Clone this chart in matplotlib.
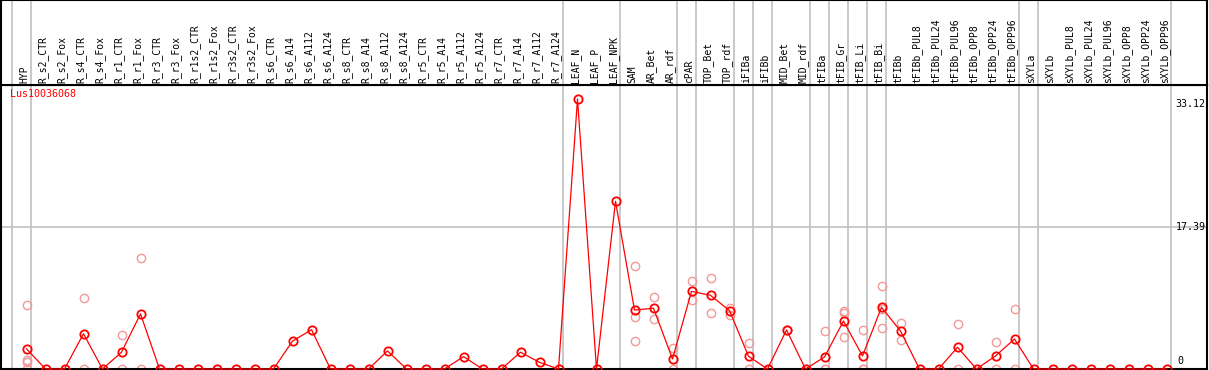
import numpy as np
import matplotlib
matplotlib.use('Agg')
import matplotlib.pyplot as plt

# %% data
samples = [
    'HYP',
    'R_s2_CTR', 'R_s2_Fox', 'R_s4_CTR', 'R_s4_Fox', 'R_r1_CTR', 'R_r1_Fox',
    'R_r3_CTR', 'R_r3_Fox', 'R_r1s2_CTR', 'R_r1s2_Fox', 'R_r3s2_CTR', 'R_r3s2_Fox',
    'R_s6_CTR', 'R_s6_A14', 'R_s6_A112', 'R_s6_A124',
    'R_s8_CTR', 'R_s8_A14', 'R_s8_A112', 'R_s8_A124',
    'R_r5_CTR', 'R_r5_A14', 'R_r5_A112', 'R_r5_A124',
    'R_r7_CTR', 'R_r7_A14', 'R_r7_A112', 'R_r7_A124',
    'LEAF_N', 'LEAF_P', 'LEAF_NPK',
    'SAM', 'AR_Bet', 'AR_rdf', 'cPAR', 'TOP_Bet', 'TOP_rdf', 'iFIBa', 'iFIBb',
    'MID_Bet', 'MID_rdf', 'tFIBa', 'tFIB_Gr', 'tFIB_Li', 'tFIB_Bi', 'tFIBb',
    'tFIBb_PUL8', 'tFIBb_PUL24', 'tFIBb_PUL96', 'tFIBb_OPP8', 'tFIBb_OPP24', 'tFIBb_OPP96',
    'sXYLa', 'sXYLb',
    'sXYLb_PUL8', 'sXYLb_PUL24', 'sXYLb_PUL96', 'sXYLb_OPP8', 'sXYLb_OPP24', 'sXYLb_OPP96',
]

mean_expr = [
    2.47,
    0, 0, 4.33, 0, 2.06, 6.76,
    0, 0, 0, 0, 0, 0,
    0, 3.42, 4.82, 0,
    0, 0, 2.22, 0,
    0, 0, 1.52, 0,
    0, 2.06, 0.82, 0,
    33.12, 0, 20.58,
    7.24, 7.45, 1.23, 9.53, 9.04, 7.16, 1.56, 0,
    4.79, 0, 1.47, 5.89, 1.60, 7.57, 4.66,
    0, 0, 2.66, 0, 1.60, 3.68,
    0, 0,
    0, 0, 0, 0, 0, 0,
]

# replicate values (light circles)
replicates = {
    'HYP': [7.8, 1.1, 0.8, 0],
    'R_s4_CTR': [8.67, 0],
    'R_r1_CTR': [4.13, 0],
    'R_r1_Fox': [13.58, 0],
    'SAM': [12.64, 6.38, 3.4],
    'AR_Bet': [8.8, 6.1],
    'AR_rdf': [2.6, 0],
    'cPAR': [10.76, 8.43],
    'TOP_Bet': [11.13, 6.83],
    'TOP_rdf': [7.52, 6.59],
    'iFIBa': [3.15, 0],
    'MID_Bet': [4.79, 4.79],
    'tFIBa': [4.66, 0, 0],
    'tFIB_Gr': [7.12, 6.83, 3.89],
    'tFIB_Li': [4.79, 0, 0],
    'tFIB_Bi': [10.18, 7.33, 5.0],
    'tFIBb': [5.6, 3.56],
    'tFIBb_PUL96': [5.48, 0],
    'tFIBb_OPP24': [3.27, 0],
    'tFIBb_OPP96': [7.33, 0],
}

# group boundaries: separator drawn after these sample indices
group_ends = [-1, 0, 28, 31, 34, 35, 37, 38, 39, 41, 42, 43, 44, 45, 52, 53, 60]

gene = 'Lus10036068'
y_marks = [33.12, 17.39]

# %% layout
W, H = 1209, 370
fig = plt.figure(figsize=(W / 100, H / 100), dpi=100)

x0_px, x1_px = 1, 1207
step = 19.0
first_px = 26.5
xlim = ((x0_px - first_px) / step, (x1_px - first_px) / step)

top_px, base_px = 85, 369
ppu = 8.15
ylim = (0, (base_px - top_px) / ppu)

ax = fig.add_axes([x0_px / W, (H - base_px) / H, (x1_px - x0_px) / W, (base_px - top_px) / H])
hdr = fig.add_axes([x0_px / W, (H - top_px) / H, (x1_px - x0_px) / W, top_px / H])

for a in (ax, hdr):
    a.set_xlim(*xlim)
    a.set_xticks([])
    a.set_yticks([])
    for s in a.spines.values():
        s.set_color('black')
        s.set_linewidth(1.5)
hdr.set_ylim(0, 1)
ax.set_ylim(*ylim)

xs = np.arange(len(samples))
mono = 'DejaVu Sans Mono'

# separators
for e in group_ends:
    for a in (ax, hdr):
        a.axvline(e + 4 / step, color='#c0c0c0', lw=1.2, zorder=0)

# horizontal guide
ax.axhline(y_marks[1], color='#c0c0c0', lw=1.2, zorder=0)

# column labels
for x, name in zip(xs, samples):
    hdr.text(x - 0.12, 0.025, name, rotation=90, ha='center', va='bottom',
             fontsize=7, family=mono, color='black')

# replicates
for name, vals in replicates.items():
    i = samples.index(name)
    ax.plot([i] * len(vals), vals, 'o', ms=6, mfc='none', mec='#f09a9a',
            mew=1.0, clip_on=False, zorder=2)

# mean line
ax.plot(xs, mean_expr, '-', color='red', lw=0.9, zorder=3, clip_on=False)
ax.plot(xs, mean_expr, 'o', ms=6, mfc='none', mec='red', mew=1.3,
        zorder=4, clip_on=False)

# labels
ax.text(-0.85, 33.8, gene, color='red', fontsize=7.2, family=mono,
        ha='left', va='center')
ax.text(62.05, y_marks[0], f'{y_marks[0]:.2f}', fontsize=7.2, family=mono,
        ha='right', va='top')
ax.text(62.05, y_marks[1], f'{y_marks[1]:.2f}', fontsize=7.2, family=mono,
        ha='right', va='center')
ax.text(60.55, 0.4, '0', fontsize=7.2, family=mono, ha='left', va='bottom')

fig.savefig('out.png', dpi=100)
